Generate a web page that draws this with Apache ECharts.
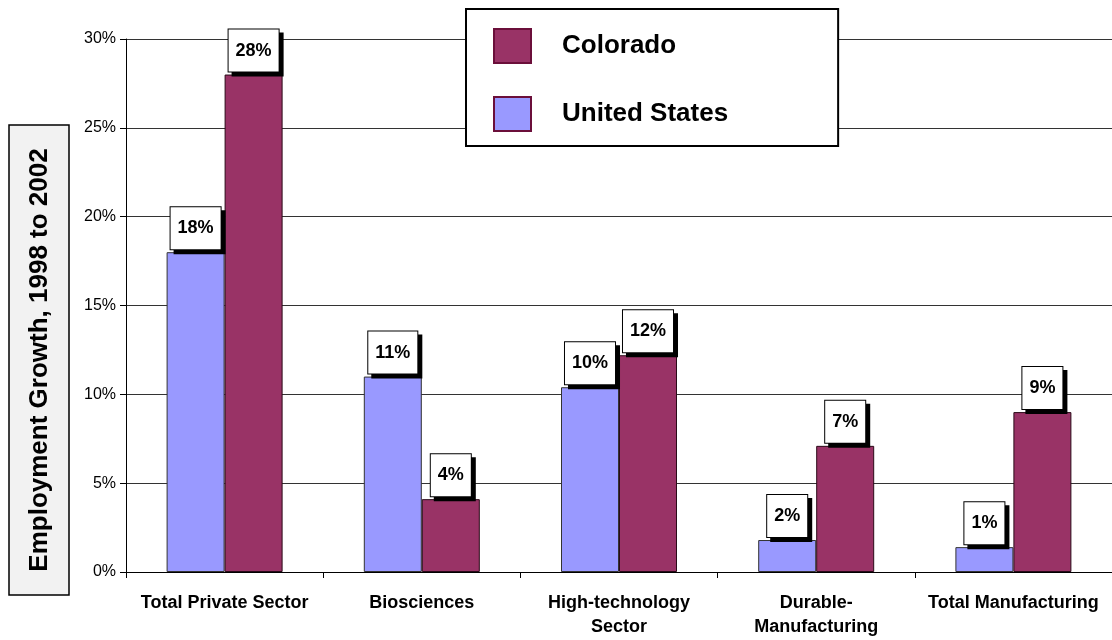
<!doctype html>
<html lang="en">
<head>
    <meta charset="UTF-8">
    <title>Employment Growth, 1998 to 2002</title>
    <script src="https://cdn.jsdelivr.net/npm/echarts@6/dist/echarts.min.js"></script>
    <style>
        html, body { margin: 0; padding: 0; background: #fff; }
        #chart { width: 1112px; height: 640px; }
    </style>
</head>
<body>
<div id="chart"></div>
<script type="text/javascript">
    // 分类
    var categories = ['Total Private Sector', 'Biosciences', 'High-technology\nSector', 'Durable-\nManufacturing', 'Total Manufacturing'];
    // 美国
    var usValues = [18.0, 11.0, 10.4, 1.8, 1.4];
    // 科罗拉多
    var coValues = [28.0, 4.1, 12.2, 7.1, 9.0];
    var yTicks = [0, 5, 10, 15, 20, 25, 30];

    var font = 'Liberation Sans, Arial, sans-serif';

    var labelStyle = {
        show: true,
        position: 'top',
        distance: 3,
        fontFamily: font,
        fontWeight: 'bold',
        fontSize: 18,
        lineHeight: 22,
        color: '#000',
        backgroundColor: '#fff',
        borderColor: '#000',
        borderWidth: 1,
        padding: [10, 7],
        shadowColor: '#000',
        shadowBlur: 0,
        shadowOffsetX: 4,
        shadowOffsetY: 4,
        formatter: function (p) {
            return Math.round(p.value) + '%';
        }
    };

    var myChart = echarts.init(document.getElementById('chart'));
    var option = {
        animation: false,
        backgroundColor: '#fff',
        grid: { left: 126, top: 39, right: 0, bottom: 68 },
        legend: {
            data: ['Colorado', 'United States'],
            orient: 'vertical',
            left: 466,
            top: 9,
            icon: 'rect',
            itemWidth: 37,
            itemHeight: 34,
            itemGap: 32,
            padding: [19, 110, 14, 27],
            borderColor: '#000',
            borderWidth: 2,
            backgroundColor: '#fff',
            textStyle: { fontFamily: font, fontWeight: 'bold', fontSize: 26, color: '#000', padding: [0, 0, 0, 26] },
            itemStyle: { borderColor: '#6b0f3a', borderWidth: 2 }
        },
        xAxis: {
            type: 'category',
            data: categories,
            axisLine: { lineStyle: { color: '#000', width: 1 } },
            axisTick: { show: true, length: 6, lineStyle: { color: '#000' } },
            axisLabel: {
                fontFamily: font,
                fontWeight: 'bold',
                fontSize: 18,
                lineHeight: 24,
                color: '#000',
                margin: 19,
                interval: 0
            }
        },
        yAxis: {
            type: 'value',
            min: yTicks[0],
            max: yTicks[yTicks.length - 1],
            interval: 5,
            axisLine: { show: true, lineStyle: { color: '#000', width: 1 } },
            axisTick: { show: true, length: 6, lineStyle: { color: '#000' } },
            axisLabel: {
                fontFamily: font,
                fontSize: 16,
                color: '#000',
                margin: 10,
                formatter: '{value}%'
            },
            splitLine: { lineStyle: { color: '#333', width: 1 } }
        },
        graphic: [
            {
                type: 'rect',
                shape: { x: 9, y: 125, width: 60, height: 470 },
                style: { fill: '#f2f2f2', stroke: '#000', lineWidth: 1.5 }
            },
            {
                type: 'text',
                x: 40,
                y: 360,
                rotation: Math.PI / 2,
                style: {
                    text: 'Employment Growth, 1998 to 2002',
                    fontFamily: font,
                    fontWeight: 'bold',
                    fontSize: 26,
                    fill: '#000',
                    align: 'center',
                    verticalAlign: 'middle'
                }
            }
        ],
        series: [
            {
                name: 'United States',
                type: 'bar',
                data: usValues,
                barWidth: 58,
                barGap: '0%',
                itemStyle: { color: '#9999ff', borderColor: '#333', borderWidth: 1 },
                label: labelStyle
            },
            {
                name: 'Colorado',
                type: 'bar',
                data: coValues,
                barWidth: 58,
                itemStyle: { color: '#993366', borderColor: '#2a0a18', borderWidth: 1 },
                label: labelStyle
            }
        ]
    };
    myChart.setOption(option);
</script>
</body>
</html>
